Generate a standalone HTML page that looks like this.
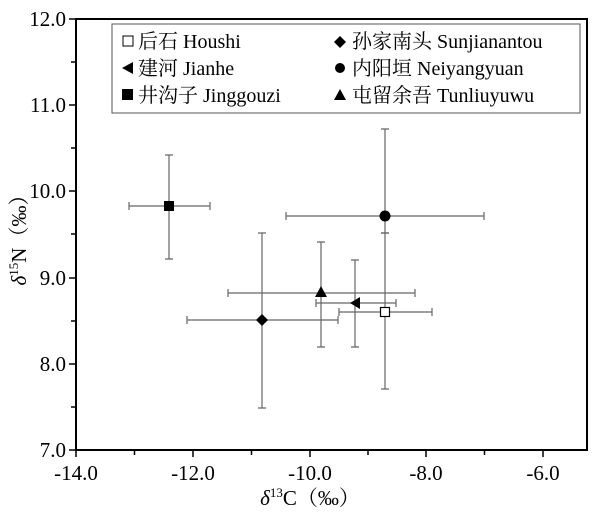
<!DOCTYPE html><html><head><style>body{margin:0;background:#fff}</style></head><body>
<svg width="606" height="516" xmlns="http://www.w3.org/2000/svg" font-family="'Liberation Serif','Noto Serif CJK SC',serif">
<rect width="606" height="516" fill="#fff"/>
<g stroke="#666" stroke-width="1.2" fill="none">
<path d="M129,206H210M129,202v8M210,202v8M169,155V259M165,155h8M165,259h8"/>
<path d="M286,216H484M286,212v8M484,212v8M385,129V233M381,129h8M381,233h8"/>
<path d="M339,312H432M339,308v8M432,308v8M385,233V389M381,233h8M381,389h8"/>
<path d="M228,293H415M228,289v8M415,289v8M321,242V347M317,242h8M317,347h8"/>
<path d="M316,303H396M316,299v8M396,299v8M355,260V347M351,260h8M351,347h8"/>
<path d="M187,320H338M187,316v8M338,316v8M262,233V408M258,233h8M258,408h8"/>
</g>
<rect x="164" y="201" width="10" height="10" fill="#000"/>
<circle cx="385" cy="216" r="5.5" fill="#000"/>
<rect x="380.5" y="307.5" width="9" height="9" fill="#fff" stroke="#000" stroke-width="1.2"/>
<path d="M321,286L327,297H315Z" fill="#000"/>
<path d="M350,303L360,297V309Z" fill="#000"/>
<path d="M262,314L268,320L262,326L256,320Z" fill="#000"/>
<rect x="76" y="19" width="511" height="431" fill="none" stroke="#000" stroke-width="2"/>
<g stroke="#000" stroke-width="1.5">
<path d="M76,450v7M134.5,450v5M193,450v7M251.5,450v5M310,450v7M368,450v5M426,450v7M484.5,450v5M543,450v7"/>
<path d="M76,450h-7M76,407h-5M76,364h-7M76,321h-5M76,278h-7M76,234h-5M76,191h-7M76,148h-5M76,105h-7M76,62h-5M76,19h-7"/>
</g>
<g font-size="21" fill="#000" text-anchor="middle">
<text x="76" y="480">-14.0</text><text x="193" y="480">-12.0</text><text x="310" y="480">-10.0</text><text x="426" y="480">-8.0</text><text x="543" y="480">-6.0</text>
</g>
<g font-size="21" fill="#000" text-anchor="end">
<text x="66" y="457">7.0</text><text x="66" y="371">8.0</text><text x="66" y="285">9.0</text><text x="66" y="198">10.0</text><text x="66" y="112">11.0</text><text x="66" y="26">12.0</text>
</g>
<text x="310" y="505" font-size="21" text-anchor="middle"><tspan font-style="italic">δ</tspan><tspan font-size="13" dy="-8">13</tspan><tspan dy="8">C（‰）</tspan></text>
<text transform="translate(26,235) rotate(-90)" font-size="21" text-anchor="middle"><tspan font-style="italic">δ</tspan><tspan font-size="13" dy="-8">15</tspan><tspan dy="8">N（‰）</tspan></text>
<rect x="112" y="24" width="468" height="89" fill="#fff" stroke="#555" stroke-width="1"/>
<g font-size="20" fill="#000">
<rect x="123" y="36" width="10" height="10" fill="#fff" stroke="#000"/>
<text x="138" y="48">后石  Houshi</text>
<path d="M122,68L133,62V74Z"/>
<text x="138" y="75">建河  Jianhe</text>
<rect x="122" y="89" width="11" height="11"/>
<text x="138" y="102">井沟子 Jinggouzi</text>
<path d="M340,36L346,42L340,48L334,42Z"/>
<text x="352" y="48">孙家南头  Sunjianantou</text>
<circle cx="340" cy="68" r="5"/>
<text x="352" y="75">内阳垣  Neiyangyuan</text>
<path d="M340,89L346,100H334Z"/>
<text x="352" y="102">屯留余吾  Tunliuyuwu</text>
</g>
</svg>
</body></html>
